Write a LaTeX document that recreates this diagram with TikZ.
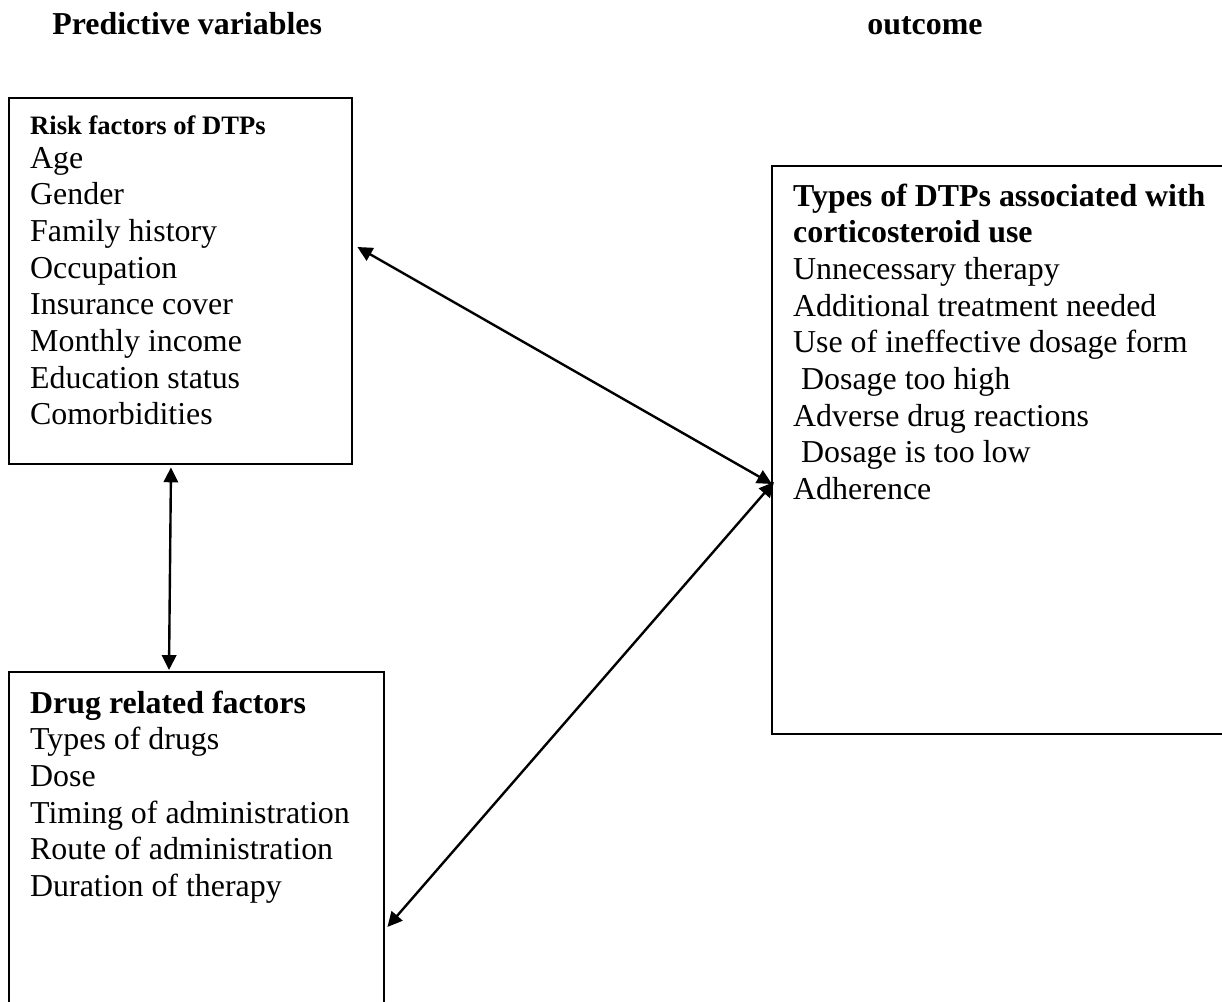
\documentclass[tikz,border=0pt]{standalone}
\usepackage{fontspec}
\setmainfont{Liberation Serif}
\usepackage{tikz}
\usetikzlibrary{arrows.meta,%
                calc,positioning}
\newlength\pxu
\setlength\pxu{0.3762pt}
\newcommand\boxbody[4]{\parbox[c][#2\pxu][t]{#1\pxu}{\fontsize{12pt}{13.8pt}\selectfont
  \leftskip=21\pxu\parindent=0pt\rule{0pt}{#3\pxu}#4}}

\begin{document}
\begin{tikzpicture}[x=0.3762pt,y=-0.3762pt,
  box/.style={draw,line width=0.9pt,inner sep=0pt,anchor=north west},
  link/.style={line width=0.9pt,{Triangle[length=5.6pt,width=5.4pt]}-{Triangle[length=5.6pt,width=5.4pt]}},
  head/.style={font={\fontsize{12pt}{14pt}\selectfont\bfseries},anchor=base west}]
\useasboundingbox (0,0) rectangle (1222,1002);
\clip (0,0) rectangle (1222,1002);
\node[head] (pred) at (43,35) {Predictive variables};
\node[head] (out) at (858,35) {outcome};
\node[box] (risk) at (8,97) {\boxbody{343}{366}{36}{{\fontsize{10pt}{12pt}\selectfont\bfseries Risk factors of DTPs}\\[-1pt]
  Age\\Gender\\Family history\\Occupation\\Insurance cover\\Monthly income\\Education status\\Comorbidities}};
\node[box] (drug) at (8,671) {\boxbody{375}{345}{41}{\textbf{Drug related factors}\\
  Types of drugs\\Dose\\Timing of administration\\Route of administration\\Duration of therapy}};
\node[box] (types) at (771,165) {\boxbody{461}{568}{40}{\textbf{Types of DTPs associated with\\corticosteroid use}\\
  Unnecessary therapy\\Additional treatment needed\\Use of ineffective dosage form\\
  \hspace*{0.25em}Dosage too high\\Adverse drug reactions\\\hspace*{0.25em}Dosage is too low\\Adherence}};
%\draw[help lines] (0,0) grid (1222,1002);
\draw[link] ($(risk.south west)+(163,2)$) -- ($(drug.north west)+(161,-1)$);
\draw[link] ($(risk.north east)+(4,150)$) -- ($(types.north west)+(1,319)$);
\draw[link] ($(drug.north east)+(2,256)$) -- ($(types.north west)+(3,317)$);
\end{tikzpicture}
\end{document}
